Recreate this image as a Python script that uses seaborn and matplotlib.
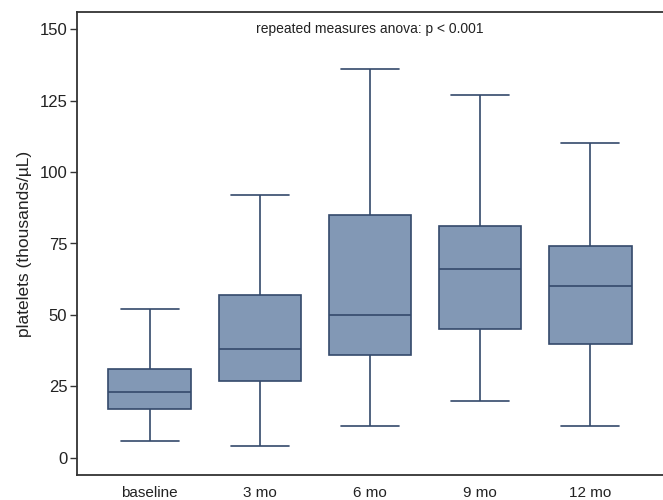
import pandas as pd
import matplotlib.pyplot as plt
import seaborn as sns

# five-number summaries (min, q1, median, q3, max)
timepoints = ['baseline', '3 mo', '6 mo', '9 mo', '12 mo']
lows = [6, 4, 11, 20, 11]
q1s = [17, 27, 36, 45, 40]
medians = [23, 38, 50, 66, 60]
q3s = [31, 57, 85, 81, 74]
highs = [52, 92, 136, 127, 110]

rows = []
for t, lo, a, m, b, hi in zip(timepoints, lows, q1s, medians, q3s, highs):
    for v in (lo, a, m, b, hi):
        rows.append({'time': t, 'platelets': v})
df = pd.DataFrame(rows)

sns.set_style('white')
plt.rcParams['font.family'] = ['Liberation Sans', 'DejaVu Sans']

fig = plt.figure(figsize=(6.63, 5), dpi=100)
ax = fig.add_axes([77 / 663, 25 / 500, 1 - 77 / 663, 463 / 500])

sns.boxplot(data=df, x='time', y='platelets', order=timepoints,
            whis=(0, 100), width=0.75, color='#8298b5', saturation=1,
            linecolor='#34496b', linewidth=1.2, showfliers=False,
            capwidths=0.53, ax=ax)

ax.set_xlim(-0.66, 4.66)
ax.set_ylim(-6, 156)
ax.set_yticks([0, 25, 50, 75, 100, 125, 150])
ax.set_xlabel('')
ax.set_ylabel('platelets (thousands/µL)', fontsize=12.5, color='#222222',
              labelpad=5)
ax.tick_params(axis='y', length=5, width=1, color='#333333', labelsize=12,
               labelcolor='#222222', left=True, pad=2)
ax.tick_params(axis='x', length=0, labelsize=11, labelcolor='#222222', pad=8)

ax.spines['right'].set_visible(False)
for s in ['left', 'top', 'bottom']:
    ax.spines[s].set_color('#333333')
    ax.spines[s].set_linewidth(1.3)

ax.text(0.5, (150 + 6) / 162, 'repeated measures anova: p < 0.001',
        transform=ax.transAxes, ha='center', va='center', fontsize=10,
        color='#222222')

fig.savefig('out.png', dpi=100)
